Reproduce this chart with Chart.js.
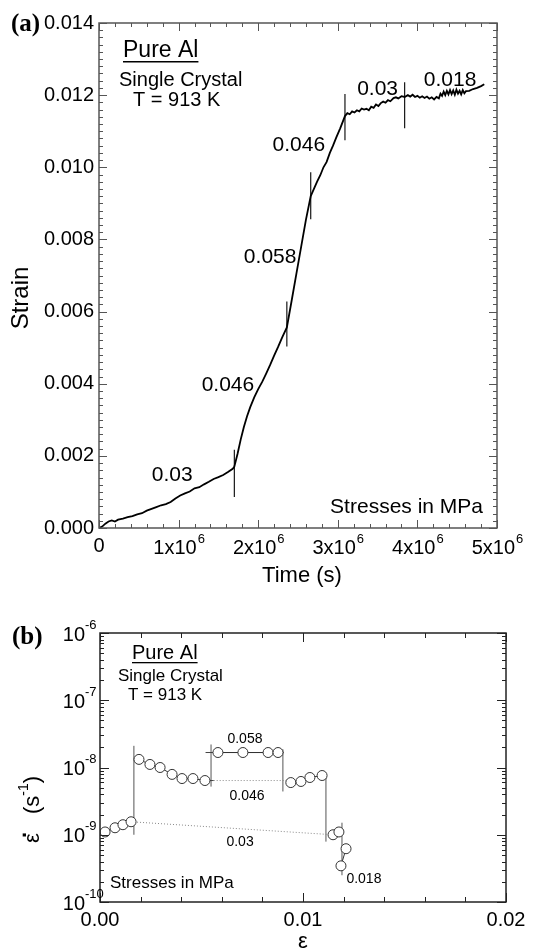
<!DOCTYPE html>
<html>
<head>
<meta charset="utf-8">
<script src="https://cdn.jsdelivr.net/npm/chart.js@4.4.1/dist/chart.umd.min.js"></script>
<style>
  html, body { margin: 0; padding: 0; background: #fff; }
  canvas { display: block; }
</style>
</head>
<body>
<canvas id="chartA" width="533" height="600"></canvas>
<canvas id="chartB" width="533" height="350"></canvas>
<script>
// ---------- (a) strain vs time ----------
const timeMega = [0.00, 0.04, 0.08, 0.12, 0.16, 0.20, 0.24, 0.30, 0.36, 0.42, 0.48, 0.54, 0.60, 0.66, 0.72, 0.78,
  0.84, 0.90, 0.96, 1.02, 1.08, 1.14, 1.20, 1.26, 1.32, 1.38, 1.44, 1.50, 1.56, 1.62, 1.68, 1.70,
  1.74, 1.78, 1.82, 1.86, 1.90, 1.95, 2.00, 2.05, 2.10, 2.15, 2.20, 2.25, 2.30, 2.36,
  2.42, 2.48, 2.54, 2.60, 2.66, 2.70, 2.74, 2.78, 2.82, 2.86, 2.90, 2.94, 2.98, 3.03, 3.09,
  3.12, 3.15, 3.18, 3.21, 3.24, 3.27, 3.30, 3.33, 3.36, 3.39, 3.42, 3.45, 3.48, 3.51, 3.54, 3.57, 3.60, 3.63, 3.66,
  3.70, 3.73, 3.76, 3.80, 3.84, 3.88, 3.91, 3.94, 3.97, 4.00, 4.03, 4.06, 4.09, 4.12, 4.15, 4.18, 4.21, 4.24, 4.27,
  4.29, 4.31, 4.33, 4.35, 4.37, 4.39, 4.41, 4.43, 4.45, 4.47, 4.49, 4.51, 4.53, 4.55, 4.57, 4.59, 4.61,
  4.65, 4.70, 4.75, 4.80, 4.84];
const strainA = [0.00000, 0.00004, 0.00012, 0.00018, 0.00021, 0.00018, 0.00023, 0.00026, 0.00030, 0.00033, 0.00038, 0.00041, 0.00048, 0.00053, 0.00058, 0.00063,
  0.00066, 0.00072, 0.00082, 0.00090, 0.00096, 0.00101, 0.00110, 0.00113, 0.00121, 0.00128, 0.00136, 0.00141, 0.00147, 0.00155, 0.00164, 0.00170,
  0.00205, 0.00245, 0.00280, 0.00310, 0.00335, 0.00362, 0.00385, 0.00405, 0.00428, 0.00452, 0.00478, 0.00502, 0.00528, 0.00556,
  0.00630, 0.00705, 0.00780, 0.00855, 0.00920, 0.00940, 0.00960, 0.00978, 0.01000, 0.01015, 0.01040, 0.01060, 0.01082, 0.01108, 0.01142,
  0.01150, 0.01147, 0.01155, 0.01152, 0.01158, 0.01155, 0.01163, 0.01160, 0.01162, 0.01158, 0.01168, 0.01165, 0.01174, 0.01170, 0.01178, 0.01182, 0.01179, 0.01186, 0.01183,
  0.01192, 0.01194, 0.01191, 0.01197, 0.01195, 0.01200, 0.01196, 0.01201, 0.01195, 0.01198, 0.01193, 0.01197, 0.01192, 0.01196, 0.01190, 0.01194, 0.01188, 0.01195, 0.01191,
  0.01204, 0.01198, 0.01210, 0.01200, 0.01212, 0.01202, 0.01214, 0.01203, 0.01213, 0.01201, 0.01215, 0.01204, 0.01212, 0.01202, 0.01214, 0.01205, 0.01211,
  0.01212, 0.01217, 0.01220, 0.01225, 0.01230];

// stress-change markers
const markerTimeMega = [1.70, 2.36, 2.66, 3.09, 3.84];
const markerLowA = [0.00086, 0.00503, 0.00856, 0.01075, 0.01108];
const markerHighA = [0.00217, 0.00628, 0.00986, 0.01203, 0.01236];

// stress labels (MPa)
const stressLabelsA = ['0.03', '0.046', '0.058', '0.046', '0.03', '0.018'];
const stressAtTimeMega = [0.92, 1.62, 2.15, 2.51, 3.50, 4.41];
const stressAtStrain = [0.00147, 0.00396, 0.00751, 0.01062, 0.01217, 0.01242];

// ---------- (b) strain rate vs strain ----------
const strainB1 = [0.00025, 0.00074, 0.00113, 0.00153];
const rateB1 = [1.10e-9, 1.27e-9, 1.41e-9, 1.56e-9];
const strainB2 = [0.00192, 0.00246, 0.00296, 0.00355, 0.00404, 0.00458, 0.00517];
const rateB2 = [1.32e-8, 1.11e-8, 1.00e-8, 7.9e-9, 6.85e-9, 6.85e-9, 6.4e-9];
const strainB3 = [0.00581, 0.00704, 0.00828, 0.00877];
const rateB3 = [1.67e-8, 1.67e-8, 1.67e-8, 1.67e-8];
const strainB4 = [0.00940, 0.00990, 0.01034, 0.01094];
const rateB4 = [5.97e-9, 6.2e-9, 7.1e-9, 7.6e-9];
const strainB5 = [0.01148, 0.01177];
const rateB5 = [1.00e-9, 1.10e-9];
const strainB6 = [0.01212, 0.01187];
const rateB6 = [6.2e-10, 3.45e-10];

const markerStrainB = [0.00167, 0.00547, 0.00901, 0.01113, 0.01192];
const markerTopB = [2.1e-8, 2.2e-8, 1.86e-8, 7.9e-9, 1.51e-9];
const markerBotB = [1.0e-9, 5.2e-9, 4.4e-9, 7.9e-10, 2.5e-10];

const stressLabelsB = ['0.058', '0.046', '0.03', '0.018'];
const stressAtStrainB = [0.00714, 0.00724, 0.00690, 0.01300];
const stressAtRateB = [2.6e-8, 3.7e-9, 7.86e-10, 2.2e-10];

const SANS = '"Liberation Sans", Arial, sans-serif';
const SERIF = '"Liberation Serif", "Times New Roman", serif';

const zip = (xs, ys, k = 1) => xs.map((v, i) => ({ x: v * k, y: ys[i] }));

function textAt(ctx, str, x, y, font, align) {
  ctx.font = font;
  ctx.textAlign = align || 'left';
  ctx.textBaseline = 'middle';
  ctx.fillText(str, x, y);
}

// ============================================
// CHART (a)
// ============================================
const datasetsA = [{
  data: zip(timeMega, strainA, 1e6),
  borderColor: '#000', borderWidth: 1.8, pointRadius: 0, showLine: true, tension: 0
}];
markerTimeMega.forEach((t, i) => {
  datasetsA.push({
    data: [{ x: t * 1e6, y: markerLowA[i] }, { x: t * 1e6, y: markerHighA[i] }],
    borderColor: '#000', borderWidth: 1.1, pointRadius: 0, showLine: true
  });
});

const decorA = {
  id: 'decorA',
  afterDraw(chart) {
    const { ctx, chartArea: a, scales: { x, y } } = chart;
    ctx.save();
    ctx.strokeStyle = '#555';
    ctx.lineWidth = 1.5;
    ctx.strokeRect(a.left, a.top, a.right - a.left, a.bottom - a.top);
    ctx.lineWidth = 1;
    ctx.beginPath();
    for (let i = 0; i <= 25; i++) {
      const px = Math.round(x.getPixelForValue(i * 0.2e6)) + 0.5;
      const len = i % 5 === 0 ? 8 : 4;
      ctx.moveTo(px, a.bottom); ctx.lineTo(px, a.bottom - len);
      ctx.moveTo(px, a.top); ctx.lineTo(px, a.top + len);
    }
    for (let i = 0; i <= 70; i++) {
      const py = Math.round(y.getPixelForValue(i * 0.0002)) + 0.5;
      const len = i % 10 === 0 ? 8 : 4;
      ctx.moveTo(a.left, py); ctx.lineTo(a.left + len, py);
      ctx.moveTo(a.right, py); ctx.lineTo(a.right - len, py);
    }
    ctx.stroke();

    ctx.fillStyle = '#000';
    // x tick labels with superscript
    for (let k = 0; k <= 5; k++) {
      const px = x.getPixelForValue(k * 1e6);
      if (k === 0) { textAt(ctx, '0', px, 546, '20px ' + SANS, 'center'); continue; }
      ctx.font = '20px ' + SANS;
      const base = k + 'x10';
      const w = ctx.measureText(base).width;
      ctx.font = '13px ' + SANS;
      const ws = ctx.measureText('6').width;
      const start = px - (w + ws) / 2;
      textAt(ctx, base, start, 548, '20px ' + SANS, 'left');
      textAt(ctx, '6', start + w + 1, 539, '13px ' + SANS, 'left');
    }

    // stress labels
    stressLabelsA.forEach((s, i) => {
      textAt(ctx, s, x.getPixelForValue(stressAtTimeMega[i] * 1e6), y.getPixelForValue(stressAtStrain[i]), '21px ' + SANS, 'center');
    });

    // annotations
    textAt(ctx, 'Pure Al', 123, 51, '23px ' + SANS);
    ctx.font = '23px ' + SANS;
    const pw = ctx.measureText('Pure Al').width;
    ctx.fillRect(123, 61, pw, 1.5);
    textAt(ctx, 'Single Crystal', 119, 80, '20px ' + SANS);
    textAt(ctx, 'T = 913 K', 133, 100, '20px ' + SANS);
    textAt(ctx, 'Stresses in MPa', 483, 507, '21px ' + SANS, 'right');
    textAt(ctx, 'Time (s)', 302, 576, '22px ' + SANS, 'center');
    textAt(ctx, '(a)', 11, 25, 'bold 25px ' + SERIF);

    ctx.save();
    ctx.translate(21, 298);
    ctx.rotate(-Math.PI / 2);
    textAt(ctx, 'Strain', 0, 0, '24px ' + SANS, 'center');
    ctx.restore();
    ctx.restore();
  }
};

new Chart(document.getElementById('chartA'), {
  type: 'scatter',
  data: { datasets: datasetsA },
  options: {
    responsive: false,
    animation: false,
    layout: { padding: { top: 23, right: 36, left: 0, bottom: 0 } },
    plugins: { legend: { display: false }, tooltip: { enabled: false } },
    scales: {
      x: {
        type: 'linear', min: 0, max: 5e6,
        grid: { display: false }, border: { display: false },
        ticks: { display: false },
        afterFit: s => { s.height = 72; }
      },
      y: {
        type: 'linear', min: 0, max: 0.014,
        grid: { display: false, drawTicks: false }, border: { display: false },
        ticks: { stepSize: 0.002, padding: 5, color: '#000', font: { family: SANS, size: 20 }, callback: v => v.toFixed(3) },
        afterFit: s => { s.width = 99; }
      }
    }
  },
  plugins: [decorA]
});

// ============================================
// CHART (b)
// ============================================
const circleStyle = {
  showLine: true, borderColor: '#333', borderWidth: 1,
  pointRadius: 5, pointBorderColor: '#333', pointBackgroundColor: '#fff', pointBorderWidth: 1, order: 1
};
const lineStyle = { showLine: true, borderColor: '#444', borderWidth: 1, pointRadius: 0, order: 2 };
const dottedStyle = { showLine: true, borderColor: '#888', borderWidth: 1, borderDash: [1, 2], pointRadius: 0, order: 2 };

const datasetsB = [
  { ...circleStyle, data: zip(strainB1, rateB1) },
  { ...circleStyle, data: zip(strainB2, rateB2) },
  { ...circleStyle, data: zip(strainB3, rateB3) },
  { ...circleStyle, data: zip(strainB4, rateB4) },
  { ...circleStyle, data: zip(strainB5, rateB5) },
  { ...circleStyle, data: zip(strainB6, rateB6) },
  // connectors
  { ...lineStyle, data: [{ x: strainB2[6], y: rateB2[6] }, { x: 0.00560, y: rateB2[6] }] },
  { ...lineStyle, data: [{ x: 0.00520, y: rateB3[0] }, { x: 0.00905, y: rateB3[0] }] },
  { ...dottedStyle, data: [{ x: strainB1[3], y: rateB1[3] }, { x: strainB5[0], y: rateB5[0] }] },
  { ...dottedStyle, data: [{ x: 0.00560, y: rateB2[6] }, { x: strainB4[0], y: rateB2[6] }] }
];
markerStrainB.forEach((e, i) => {
  datasetsB.push({ ...lineStyle, borderColor: '#555', data: [{ x: e, y: markerBotB[i] }, { x: e, y: markerTopB[i] }] });
});

const decorB = {
  id: 'decorB',
  afterDraw(chart) {
    const { ctx, chartArea: a, scales: { x, y } } = chart;
    ctx.save();
    ctx.strokeStyle = '#222';
    ctx.lineWidth = 1.5;
    ctx.strokeRect(a.left, a.top, a.right - a.left, a.bottom - a.top);
    ctx.lineWidth = 1;
    ctx.beginPath();
    for (let i = 0; i <= 10; i++) {
      const px = Math.round(x.getPixelForValue(i * 0.002)) + 0.5;
      const len = i % 5 === 0 ? 9 : 5;
      ctx.moveTo(px, a.bottom); ctx.lineTo(px, a.bottom - len);
      ctx.moveTo(px, a.top); ctx.lineTo(px, a.top + len);
    }
    for (let d = -10; d <= -6; d++) {
      for (let m = 1; m <= 9; m++) {
        if (d === -6 && m > 1) break;
        const py = Math.round(y.getPixelForValue(m * Math.pow(10, d))) + 0.5;
        const len = m === 1 ? 9 : 4;
        ctx.moveTo(a.left, py); ctx.lineTo(a.left + len, py);
        ctx.moveTo(a.right, py); ctx.lineTo(a.right - len, py);
      }
    }
    ctx.stroke();

    ctx.fillStyle = '#000';
    // log tick labels
    for (let d = -10; d <= -6; d++) {
      const py = y.getPixelForValue(Math.pow(10, d));
      textAt(ctx, '10', 85, py + 2, '20px ' + SANS, 'right');
      textAt(ctx, String(d), 85, py - 8, '13px ' + SANS, 'left');
    }

    stressLabelsB.forEach((s, i) => {
      textAt(ctx, s, x.getPixelForValue(stressAtStrainB[i]), y.getPixelForValue(stressAtRateB[i]), '14px ' + SANS, 'center');
    });

    textAt(ctx, 'Pure Al', 132, 53, '20px ' + SANS);
    ctx.font = '20px ' + SANS;
    const pw = ctx.measureText('Pure Al').width;
    ctx.fillRect(132, 62, pw, 1.3);
    textAt(ctx, 'Single Crystal', 118, 76, '17px ' + SANS);
    textAt(ctx, 'T = 913 K', 128, 95, '17px ' + SANS);
    textAt(ctx, 'Stresses in MPa', 110, 283, '17px ' + SANS);
    textAt(ctx, 'ε', 303, 342, '22px ' + SANS, 'center');
    textAt(ctx, '(b)', 12, 38, 'bold 25px ' + SERIF);

    // rotated y title: ε̇ (s^-1)
    ctx.save();
    ctx.translate(33, 0);
    ctx.rotate(-Math.PI / 2);
    textAt(ctx, 'ε', -243, 0, '22px ' + SANS, 'left');
    textAt(ctx, '.', -238, -13, 'bold 22px ' + SANS, 'left');
    ctx.font = '22px ' + SANS;
    const w1 = ctx.measureText('(s').width;
    textAt(ctx, '(s', -214, 0, '22px ' + SANS, 'left');
    ctx.font = '14px ' + SANS;
    const w2 = ctx.measureText('-1').width;
    textAt(ctx, '-1', -214 + w1, -9, '14px ' + SANS, 'left');
    textAt(ctx, ')', -214 + w1 + w2, 0, '22px ' + SANS, 'left');
    ctx.restore();
    ctx.restore();
  }
};

new Chart(document.getElementById('chartB'), {
  type: 'scatter',
  data: { datasets: datasetsB },
  options: {
    responsive: false,
    animation: false,
    layout: { padding: { top: 33, right: 27, left: 0, bottom: 0 } },
    plugins: { legend: { display: false }, tooltip: { enabled: false } },
    scales: {
      x: {
        type: 'linear', min: 0, max: 0.02,
        grid: { display: false, drawTicks: false }, border: { display: false },
        ticks: { stepSize: 0.01, padding: 6, color: '#000', maxRotation: 0, font: { family: SANS, size: 20 }, callback: v => v.toFixed(2) },
        afterFit: s => { s.height = 48; }
      },
      y: {
        type: 'logarithmic', min: 1e-10, max: 1e-6,
        grid: { display: false }, border: { display: false },
        ticks: { display: false },
        afterFit: s => { s.width = 100; }
      }
    }
  },
  plugins: [decorB]
});
</script>
</body>
</html>
